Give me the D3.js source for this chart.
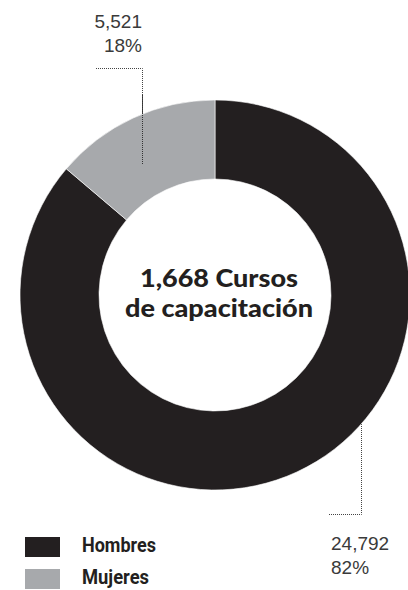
<!DOCTYPE html>
<html lang="es">
<head>
    <meta charset="UTF-8">
    <title>Cursos de capacitación</title>
    <script src="https://cdn.jsdelivr.net/npm/d3@7"></script>
    <style>
        body { margin: 0; background: #fff; }
    </style>
</head>
<body>
    <div id="chart"></div>
    <script>
        // Data
        const categories = ["Hombres", "Mujeres"];
        const counts = [24792, 5521];
        const percents = ["82%", "18%"];
        // share of the ring as it is drawn in the picture (gray arc ~50deg)
        const drawnShare = [86.2, 13.8];
        const colors = ["#231f20", "#a7a9ac"];
        const centerLines = ["1,668 Cursos", "de capacitación"];

        const width = 408, height = 590;
        const cx = 215, cy = 295;
        const outerR = 195, innerR = 116;

        const svg = d3.select("#chart").append("svg")
            .attr("width", width)
            .attr("height", height);

        const fmt = d3.format(",");

        // Leader lines (drawn first so the ring covers their ends)
        const lead = svg.append("g")
            .attr("fill", "none")
            .attr("stroke", "#444")
            .attr("stroke-width", 1)
            .attr("stroke-dasharray", "1,1");
        lead.append("path").attr("d", "M96,68.5H142.5V164");
        lead.append("path").attr("d", "M361.5,420V514.5H329");

        // Ring
        const pie = d3.pie().sort(null).value(d => d.share);
        const arc = d3.arc().innerRadius(innerR).outerRadius(outerR);
        const slices = categories.map((c, i) => ({name: c, share: drawnShare[i], color: colors[i]}));

        const ring = svg.append("g").attr("transform", `translate(${cx},${cy})`);
        ring.selectAll("path")
            .data(pie(slices))
            .enter().append("path")
            .attr("d", arc)
            .attr("fill", d => d.data.color)
            .attr("stroke", "#fff")
            .attr("stroke-width", 0.6);

        // Mujeres leader line over gray slice
        svg.append("path")
            .attr("d", "M142.5,95V164")
            .attr("fill", "none")
            .attr("stroke", "#333")
            .attr("stroke-width", 1)
            .attr("stroke-dasharray", "1,1");

        // Center title
        const titleW = [158, 188];
        const title = svg.append("text")
            .attr("text-anchor", "middle")
            .style("font-family", "Lato, 'Open Sans', sans-serif")
            .style("font-weight", 900)
            .style("font-size", "25px")
            .style("fill", "#231f20");
        title.selectAll("tspan")
            .data(centerLines)
            .enter().append("tspan")
            .attr("x", 219)
            .attr("y", (d, i) => 287 + i * 30)
            .attr("textLength", (d, i) => titleW[i])
            .attr("lengthAdjust", "spacingAndGlyphs")
            .text(d => d);

        // Value labels
        const labelStyle = sel => sel
            .style("font-family", "'Liberation Sans', Arial, sans-serif")
            .style("font-weight", 400)
            .style("font-size", "19px")
            .style("fill", "#3a3a3a");

        const mujLabel = svg.append("text").attr("text-anchor", "end").call(labelStyle);
        mujLabel.append("tspan").attr("x", 142).attr("y", 28).text(fmt(counts[1]));
        mujLabel.append("tspan").attr("x", 142).attr("y", 52).text(percents[1]);

        const homLabel = svg.append("text").attr("text-anchor", "start").call(labelStyle);
        homLabel.append("tspan").attr("x", 331).attr("y", 550).text(fmt(counts[0]));
        homLabel.append("tspan").attr("x", 331).attr("y", 574).text(percents[0]);

        // Legend
        const legendY = d3.scalePoint().domain(categories).range([537, 569]);
        const legendW = [74, 67];
        const legend = svg.append("g");
        legend.selectAll("rect")
            .data(categories)
            .enter().append("rect")
            .attr("x", 25)
            .attr("y", d => legendY(d))
            .attr("width", 35)
            .attr("height", 20)
            .attr("fill", (d, i) => colors[i]);
        legend.selectAll("text")
            .data(categories)
            .enter().append("text")
            .attr("x", 82)
            .attr("y", d => legendY(d) + 15)
            .attr("textLength", (d, i) => legendW[i])
            .attr("lengthAdjust", "spacingAndGlyphs")
            .style("font-family", "'Liberation Sans Narrow', Roboto, sans-serif")
            .style("font-weight", 700)
            .style("font-size", "20px")
            .style("fill", "#231f20")
            .text(d => d);
    </script>
</body>
</html>
